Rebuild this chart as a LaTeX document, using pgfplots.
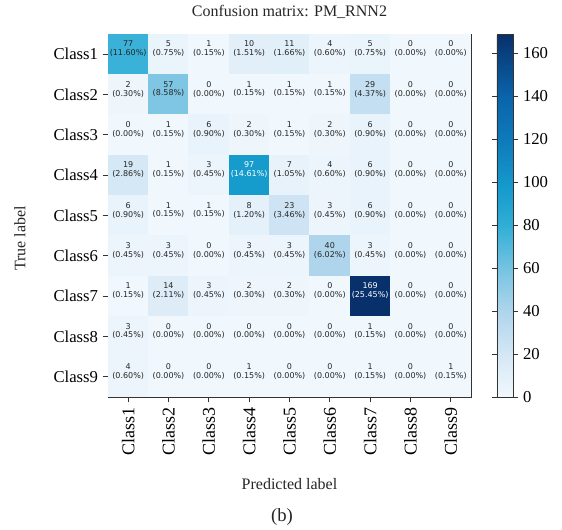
\documentclass[border=0pt]{standalone}
\usepackage{pgfplots}
\pgfplotsset{compat=1.18}
\usepackage{pgfplotstable}
\usepackage{fontspec}
\setmainfont{Liberation Serif}
\newfontfamily\cellfont{DejaVu Sans}
\pgfplotstableread{
x y c p
0 8 77 11.60
1 8 5 0.75
2 8 1 0.15
3 8 10 1.51
4 8 11 1.66
5 8 4 0.60
6 8 5 0.75
7 8 0 0.00
8 8 0 0.00
0 7 2 0.30
1 7 57 8.58
2 7 0 0.00
3 7 1 0.15
4 7 1 0.15
5 7 1 0.15
6 7 29 4.37
7 7 0 0.00
8 7 0 0.00
0 6 0 0.00
1 6 1 0.15
2 6 6 0.90
3 6 2 0.30
4 6 1 0.15
5 6 2 0.30
6 6 6 0.90
7 6 0 0.00
8 6 0 0.00
0 5 19 2.86
1 5 1 0.15
2 5 3 0.45
3 5 97 14.61
4 5 7 1.05
5 5 4 0.60
6 5 6 0.90
7 5 0 0.00
8 5 0 0.00
0 4 6 0.90
1 4 1 0.15
2 4 1 0.15
3 4 8 1.20
4 4 23 3.46
5 4 3 0.45
6 4 6 0.90
7 4 0 0.00
8 4 0 0.00
0 3 3 0.45
1 3 3 0.45
2 3 0 0.00
3 3 3 0.45
4 3 3 0.45
5 3 40 6.02
6 3 3 0.45
7 3 0 0.00
8 3 0 0.00
0 2 1 0.15
1 2 14 2.11
2 2 3 0.45
3 2 2 0.30
4 2 2 0.30
5 2 0 0.00
6 2 169 25.45
7 2 0 0.00
8 2 0 0.00
0 1 3 0.45
1 1 0 0.00
2 1 0 0.00
3 1 0 0.00
4 1 0 0.00
5 1 0 0.00
6 1 1 0.15
7 1 0 0.00
8 1 0 0.00
0 0 4 0.60
1 0 0 0.00
2 0 0 0.00
3 0 1 0.15
4 0 0 0.00
5 0 0 0.00
6 0 1 0.15
7 0 0 0.00
8 0 1 0.15
}\cmtable
\newcommand{\celltext}[2]{%
  \ifdim#1pt>84pt\relax\color{white}\fi
  \pgfmathprintnumber[fixed,precision=0,assume math mode=true]{#1}\\
  \ifdim#1pt>84pt\relax\color{white}\fi
  (\pgfmathprintnumber[fixed,fixed zerofill,precision=2,assume math mode=true]{#2}\%)}
\begin{document}
\begin{tikzpicture}
\useasboundingbox (-81pt,-99.75pt) rectangle (340.5pt,297.75pt);
\begin{axis}[
  at={(0,0)}, anchor=south west,
  width=272.25pt, height=272.25pt, scale only axis,
  xmin=-0.5, xmax=8.5, ymin=-0.5, ymax=8.5,
  enlargelimits=false,
  axis line style={black!80, line width=0.6pt},
  xtick={0,...,8}, ytick={0,...,8},
  xticklabels={Class1,Class2,Class3,Class4,Class5,Class6,Class7,Class8,Class9},
  yticklabels={Class9,Class8,Class7,Class6,Class5,Class4,Class3,Class2,Class1},
  xtick pos=bottom, ytick pos=left, tick align=outside,
  major tick length=4pt,
  tick style={black!80, line width=0.6pt},
  xticklabel style={rotate=90, anchor=east, font=\fontsize{13.5}{16}\selectfont},
  yticklabel style={font=\fontsize{12.5}{15}\selectfont},
  colormap={cmb}{rgb255(0cm)=(241,248,253); rgb255(20cm)=(212,231,245); rgb255(40cm)=(174,213,236); rgb255(60cm)=(118,195,225); rgb255(80cm)=(48,174,214); rgb255(97cm)=(22,155,205); rgb255(120cm)=(14,122,186); rgb255(140cm)=(10,100,170); rgb255(169cm)=(8,48,107)},
  point meta min=0, point meta max=169,
  colorbar,
  colorbar shift/.style={xshift=19.5pt},
  colorbar style={width=12pt, at={(parent axis.north east)}, anchor=north west,
    ytick={0,20,...,160}, tick align=outside, major tick length=4pt,
    axis line style={black!80, line width=0.6pt},
    tick style={black!80, line width=0.6pt},
    yticklabel style={font=\fontsize{12.5}{14}\selectfont, /pgf/number format/assume math mode=true}},
]
\addplot[matrix plot*, mesh/cols=9, point meta=\thisrow{c}] table {\cmtable};
\addplot[only marks, mark=*, mark size=0pt, mark options={draw=none, fill=none},
  point meta=\thisrow{c},
  visualization depends on={\thisrow{c}\as\cnt},
  visualization depends on={\thisrow{p}\as\pct},
  nodes near coords={\celltext{\cnt}{\pct}},
  nodes near coords align=center,
  every node near coord/.append style={align=center, anchor=center, yshift=4pt, text=black!85, inner sep=0pt, font=\cellfont\fontsize{6}{6.6}\selectfont},
] table {\cmtable};
\end{axis}
\node[font=\fontsize{12}{14}\selectfont, text=black!85] at (136.1pt,288.5pt) {Confusion matrix: PM\_RNN2};
\node[font=\fontsize{12}{14}\selectfont, rotate=90, text=black!85] at (-66pt,119pt) {True label};
\node[font=\fontsize{12}{14}\selectfont, text=black!85] at (136.1pt,-65pt) {Predicted label};
\node[font=\fontsize{14}{16}\selectfont, text=black!85] at (130.5pt,-90pt) {(b)};
\end{tikzpicture}
\end{document}
